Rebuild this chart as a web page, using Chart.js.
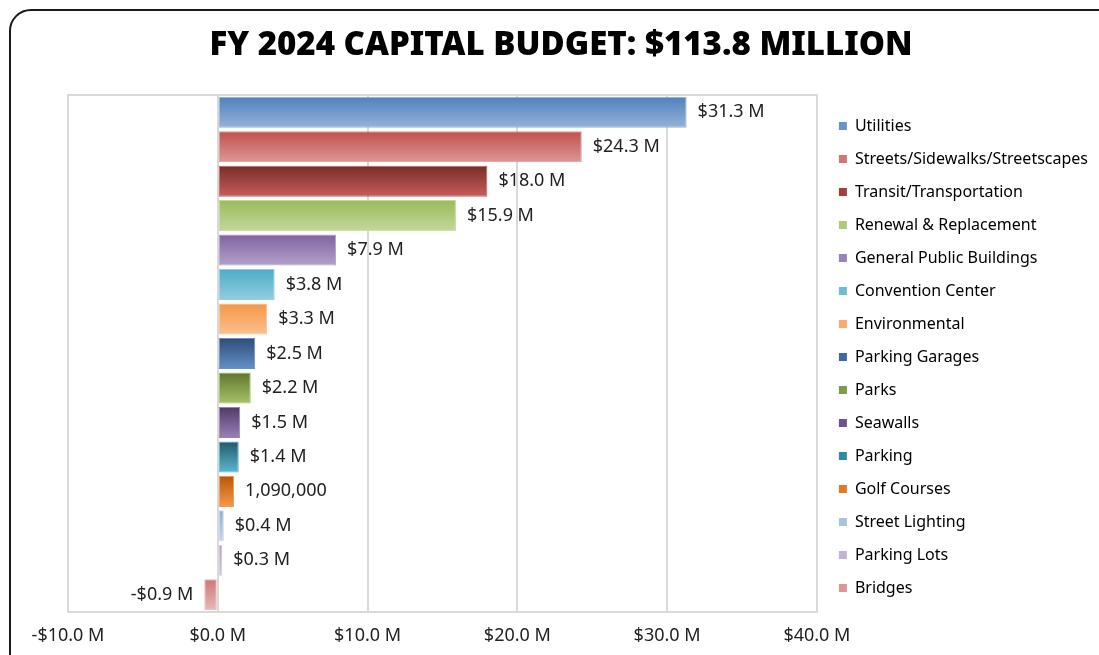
<!DOCTYPE html>
<html lang="en">
<head>
    <meta charset="UTF-8">
    <title>FY 2024 Capital Budget</title>
    <script src="https://cdn.jsdelivr.net/npm/chart.js"></script>
    <style>
        body {
            margin: 0;
            background: #fff;
            overflow: hidden;
        }
        #frame {
            position: absolute;
            left: 9px;
            top: 9px;
            width: 1120px;
            height: 680px;
            border: 2px solid #1a1a1a;
            border-radius: 22px;
            pointer-events: none;
        }
        #wrap {
            position: absolute;
            left: 0;
            top: 0;
        }
    </style>
</head>
<body>

<div id="wrap"><canvas id="budgetChart" width="1099" height="655"></canvas></div>
<div id="frame"></div>

<script>
    const chartTitle = 'FY 2024 CAPITAL BUDGET: $113.8 MILLION';

    // categories, top to bottom
    const categories = [
        'Utilities', 'Streets/Sidewalks/Streetscapes', 'Transit/Transportation',
        'Renewal & Replacement', 'General Public Buildings', 'Convention Center',
        'Environmental', 'Parking Garages', 'Parks', 'Seawalls', 'Parking',
        'Golf Courses', 'Street Lighting', 'Parking Lots', 'Bridges'
    ];

    // budget in millions
    const budget = [31.3, 24.3, 18.0, 15.9, 7.9, 3.8, 3.3, 2.5, 2.2, 1.5, 1.4, 1.09, 0.4, 0.3, -0.9];

    // labels shown next to the bars
    const barLabels = [
        '$31.3 M', '$24.3 M', '$18.0 M', '$15.9 M', '$7.9 M', '$3.8 M', '$3.3 M',
        '$2.5 M', '$2.2 M', '$1.5 M', '$1.4 M', '1,090,000', '$0.4 M', '$0.3 M', '-$0.9 M'
    ];

    // x axis ticks
    const xTicks = [-10, 0, 10, 20, 30, 40];
    const xTickLabels = ['-$10.0 M', '$0.0 M', '$10.0 M', '$20.0 M', '$30.0 M', '$40.0 M'];

    // gradient top / bottom colours and legend swatch colours
    const topColors = [
        '#4f81bd', '#c0504d', '#772c2a', '#9bbb59', '#8064a2', '#4bacc6', '#f79646',
        '#2c4d75', '#5f7530', '#4f3a66', '#215967', '#b65708', '#8eadd4', '#a998c0', '#d27674'
    ];
    const bottomColors = [
        '#95b3d7', '#dc9896', '#c65e5b', '#c4d79b', '#b2a1c8', '#93cedd', '#fac08f',
        '#6590c8', '#a6c266', '#9a80b8', '#5ab8d0', '#f7994d', '#c5d6ec', '#d3cae2', '#e6b8b7'
    ];
    const legendColors = [
        '#6a94c9', '#d27674', '#a33e3b', '#b0c97a', '#9a83b6', '#6fbdd2', '#f9ab6a',
        '#3f6aa0', '#7f9b45', '#6d5490', '#2f8ba3', '#e17a25', '#a9c3e2', '#c1b4d6', '#dc9896'
    ];

    const FONT = '"Noto Sans", sans-serif';

    function barGradient(ctx) {
        const chart = ctx.chart;
        const i = ctx.dataIndex;
        const yScale = chart.scales.y;
        if (!chart.chartArea || !yScale || i === undefined) return legendColors[i || 0];
        const c = yScale.getPixelForValue(i);
        const h = (chart.chartArea.bottom - chart.chartArea.top) / categories.length * 0.45;
        const g = chart.ctx.createLinearGradient(0, c - h, 0, c + h);
        g.addColorStop(0, topColors[i]);
        g.addColorStop(1, bottomColors[i]);
        return g;
    }

    // title (drawn a little right of centre, like the original)
    const titlePlugin = {
        id: 'titleText',
        afterDraw(chart) {
            const c = chart.ctx;
            c.save();
            c.font = '900 33px ' + FONT;
            c.fillStyle = '#000';
            c.textAlign = 'center';
            c.textBaseline = 'middle';
            c.fillText(chartTitle, 561, 46);
            c.restore();
        }
    };

    // nudge the legend away from the plot and up
    const legendGap = {
        id: 'legendGap',
        afterLayout(chart) {
            const lg = chart.legend;
            lg.left += 5;
            lg.right += 5;
            lg.top -= 18;
            lg.bottom -= 18;
        }
    };

    // plot area top line
    const plotFrame = {
        id: 'plotFrame',
        beforeDatasetsDraw(chart) {
            const a = chart.chartArea;
            const c = chart.ctx;
            c.save();
            c.strokeStyle = '#d9d9d9';
            c.lineWidth = 2;
            c.beginPath();
            c.moveTo(a.left - 1, a.top);
            c.lineTo(a.right + 1, a.top);
            c.stroke();
            c.restore();
        }
    };

    // value labels beside each bar
    const valueLabels = {
        id: 'valueLabels',
        afterDatasetsDraw(chart) {
            const c = chart.ctx;
            const meta = chart.getDatasetMeta(0);
            c.save();
            c.font = '18px ' + FONT;
            c.fillStyle = '#222';
            c.textBaseline = 'middle';
            meta.data.forEach((bar, i) => {
                if (budget[i] >= 0) {
                    c.textAlign = 'left';
                    c.fillText(barLabels[i], bar.x + 11, bar.y);
                } else {
                    c.textAlign = 'right';
                    c.fillText(barLabels[i], bar.x - 11, bar.y);
                }
            });
            c.restore();
        }
    };

    new Chart(document.getElementById('budgetChart'), {
        type: 'bar',
        data: {
            labels: categories,
            datasets: [{
                label: 'FY 2024',
                data: budget,
                backgroundColor: barGradient,
                borderColor: bottomColors,
                borderWidth: 1,
                borderSkipped: false,
                categoryPercentage: 0.9,
                barPercentage: 1.0
            }]
        },
        options: {
            indexAxis: 'y',
            responsive: false,
            animation: false,
            layout: {
                padding: { left: 68, right: 6, top: 95, bottom: 0 }
            },
            scales: {
                x: {
                    min: -10,
                    max: 40,
                    afterBuildTicks(axis) {
                        axis.ticks = xTicks.map(v => ({ value: v }));
                    },
                    afterFit(axis) { axis.height = 43; },
                    ticks: {
                        color: '#222',
                        font: { family: FONT, size: 18 },
                        padding: 13,
                        callback(value) {
                            return xTickLabels[xTicks.indexOf(value)];
                        }
                    },
                    grid: {
                        color: '#d9d9d9',
                        lineWidth: 2,
                        drawTicks: false
                    },
                    border: { color: '#d9d9d9', width: 2 }
                },
                y: {
                    display: false
                }
            },
            plugins: {
                title: { display: false },
                legend: {
                    position: 'right',
                    labels: {
                        color: '#222',
                        font: { family: FONT, size: 16 },
                        boxWidth: 8,
                        boxHeight: 8,
                        padding: 17,
                        generateLabels() {
                            return categories.map((name, i) => ({
                                text: name,
                                fillStyle: legendColors[i],
                                strokeStyle: legendColors[i],
                                lineWidth: 0,
                                hidden: false,
                                index: i
                            }));
                        }
                    }
                },
                tooltip: { enabled: false }
            }
        },
        plugins: [plotFrame, valueLabels, legendGap, titlePlugin]
    });
</script>

</body>
</html>
